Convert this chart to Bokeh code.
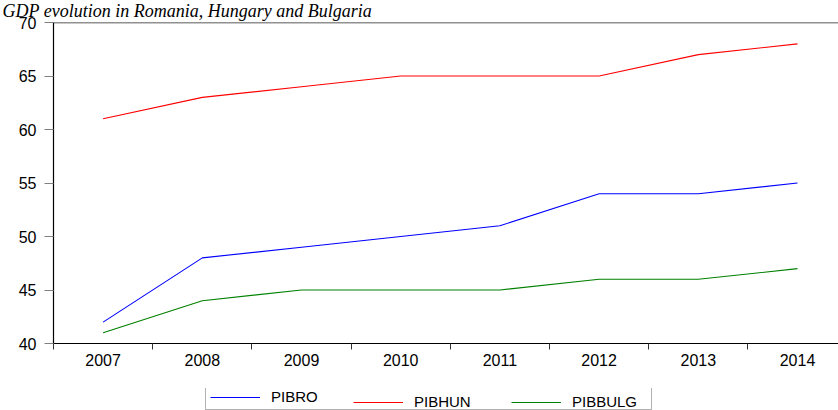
from bokeh.plotting import figure
from bokeh.layouts import column
from bokeh.models import (ColumnDataSource, FixedTicker, Range1d, Span,
                          Legend, LegendItem)
from bokeh.embed import file_html
from bokeh.resources import INLINE

# ---- data ----
years = [2007, 2008, 2009, 2010, 2011, 2012, 2013, 2014]
pibro = [42, 48, 49, 50, 51, 54, 54, 55]
pibhun = [61, 63, 64, 65, 65, 65, 67, 68]
pibbulg = [41, 44, 45, 45, 45, 46, 46, 47]
series_names = ["PIBRO", "PIBHUN", "PIBBULG"]
series_colors = ["#0000ff", "#ff0000", "#008000"]
y_ticks = [40, 45, 50, 55, 60, 65, 70]
title_text = "GDP evolution in Romania, Hungary and Bulgaria"

source = ColumnDataSource(dict(year=years, PIBRO=pibro, PIBHUN=pibhun, PIBBULG=pibbulg))

p = figure(width=838, height=388, output_backend="svg", toolbar_location=None,
           x_range=Range1d(years[0] - 0.5, years[-1] + 0.413),
           y_range=Range1d(y_ticks[0], y_ticks[-1]))
p.min_border = 0
p.min_border_left = 53
p.min_border_top = 22
p.min_border_right = 0
p.min_border_bottom = 45
p.outline_line_color = None
p.background_fill_color = "white"
p.border_fill_color = "white"
p.xgrid.visible = False
p.ygrid.visible = False

# title (above panel)
p.title.text = title_text
p.title.text_font = "Liberation Serif"
p.title.text_font_style = "italic"
p.title.text_font_size = "18px"
p.title.text_color = "black"
p.title.align = "left"
p.title.vertical_align = "top"
p.title.offset = -51
p.title.standoff = 0

for name, col in zip(series_names, series_colors):
    p.line("year", name, source=source, line_color=col, line_width=1.1)

# top frame line
p.add_layout(Span(location=y_ticks[-1], dimension="width", line_color="#222222", line_width=1.5))

# x axis
xa = p.xaxis[0]
xa.ticker = FixedTicker(ticks=years, minor_ticks=[y - 0.5 for y in years])
xa.major_label_overrides = {y: str(y) for y in years}
xa.major_tick_line_color = None
xa.major_tick_out = 6
xa.major_tick_in = 0
xa.minor_tick_out = 6
xa.minor_tick_in = 0
xa.minor_tick_line_color = "#333333"
xa.axis_line_color = "black"
xa.axis_line_width = 1.2
xa.major_label_standoff = 4
xa.major_label_text_font = "Liberation Sans"
xa.major_label_text_font_size = "16px"
xa.major_label_text_color = "black"

# y axis
ya = p.yaxis[0]
ya.ticker = FixedTicker(ticks=y_ticks)
ya.major_label_overrides = {v: str(v) for v in y_ticks}
ya.major_tick_out = 9
ya.major_tick_in = 0
ya.major_tick_line_color = "#808080"
ya.minor_tick_line_color = None
ya.axis_line_color = "black"
ya.axis_line_width = 1.2
ya.major_label_standoff = 8
ya.major_label_text_font = "Liberation Sans"
ya.major_label_text_font_size = "16px"
ya.major_label_text_color = "black"

# ---- legend strip below the chart (own small figure; its series sit hidden behind the opaque legend box) ----
lg = figure(width=838, height=22, output_backend="svg", toolbar_location=None,
            x_range=Range1d(2000, 2022), y_range=Range1d(24.8, 84.2),
            x_axis_location=None, y_axis_location=None)
lg.min_border = 0
lg.outline_line_color = None
lg.xgrid.visible = False
lg.ygrid.visible = False
lg.background_fill_color = "white"
lg.border_fill_color = "white"

legend_renderers = []
for name, col in zip(series_names, series_colors):
    legend_renderers.append(lg.line("year", name, source=source, line_color=col,
                                    line_alpha=1.0, line_width=1.2))

# one legend per series (first one carries the surrounding box)
legend_x = [152, 300, 458]
for i, (n, r) in enumerate(zip(series_names, legend_renderers)):
    first = (i == 0)
    lgd = Legend(items=[LegendItem(label=n, renderers=[r])],
                 orientation="horizontal", location=(legend_x[i], 0), margin=0, padding=4,
                 glyph_width=50, glyph_height=14, label_height=14, label_standoff=11,
                 label_width=376 if first else 20,
                 label_text_font="Liberation Sans", label_text_font_size="15px",
                 label_text_color="black",
                 border_line_color="#666666" if first else None, border_line_width=1,
                 background_fill_color="white",
                 background_fill_alpha=1.0 if first else 0.0)
    lg.add_layout(lgd)

layout = column(p, lg, spacing=0)
open("out.html", "w").write(file_html(layout, INLINE))
